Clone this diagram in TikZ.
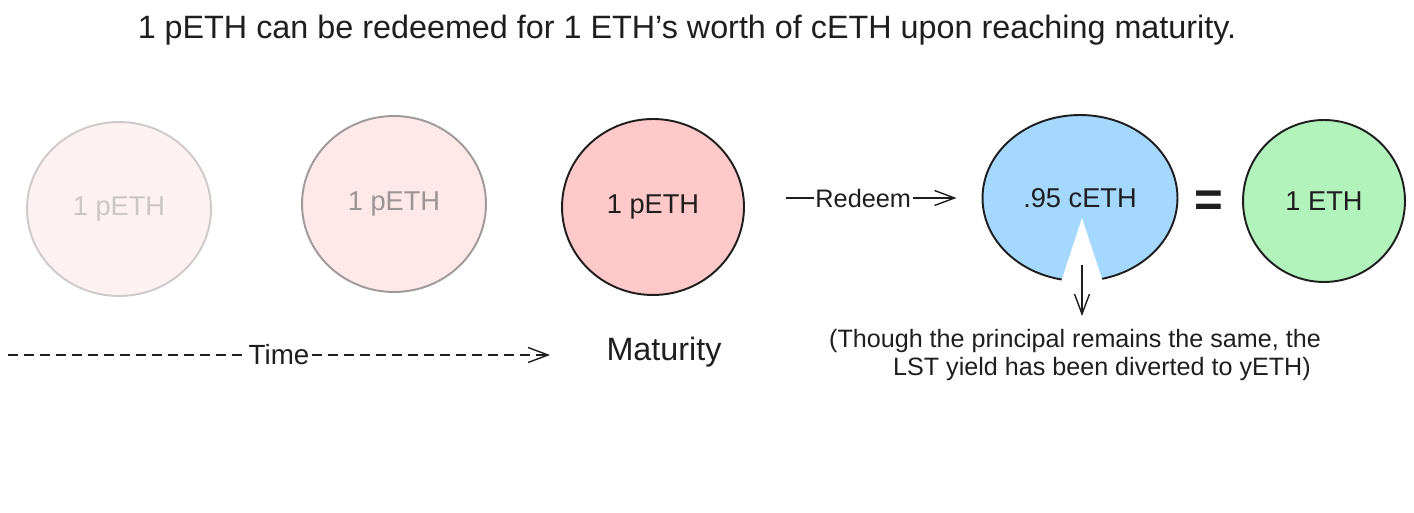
\documentclass[tikz,border=0pt]{standalone}
\usepackage{fontspec}
\setmainfont{Liberation Sans}
\usepackage{tikz}
\usetikzlibrary{shapes.geometric,arrows.meta,positioning}
\definecolor{inkBlack}{HTML}{1E1E1E}
\definecolor{fadeLine}{HTML}{CFCACA}
\definecolor{fadeFill}{HTML}{FDF1F1}
\definecolor{fadeText}{HTML}{CBC6C6}
\definecolor{halfLine}{HTML}{9F9A9A}
\definecolor{halfFill}{HTML}{FFE8E8}
\definecolor{halfText}{HTML}{9A9696}
\definecolor{pethRed}{HTML}{FFC9C9}
\definecolor{cethBlue}{HTML}{A5D8FF}
\definecolor{ethGreen}{HTML}{B2F2BB}

\begin{document}
\begin{tikzpicture}[x=0.02cm, y=-0.02cm,
        coin/.style={ellipse, draw=#1, line width=1.1pt, inner sep=0pt,
                     align=center, font=\fontsize{15.5}{18}\selectfont},
        arr/.style={-{Straight Barb[length=0.4cm,width=0.3cm]}, line width=0.8pt, inkBlack},
        tag/.style={fill=white, inner sep=1pt, text=inkBlack, font=\fontsize{#1}{#1}\selectfont},
      ]
      \useasboundingbox (0,0) rectangle (1414,513);
      \node[font=\fontsize{18.4}{22}\selectfont, text=inkBlack] (title) at (687,30)
        {1 pETH can be redeemed for 1 ETH's worth of cETH upon reaching maturity.};
      \node[coin=fadeLine, fill=fadeFill, text=fadeText,
            minimum width=3.68cm, minimum height=3.48cm] (p1) at (119,209) {1 pETH};
      \node[coin=halfLine, fill=halfFill, text=halfText,
            minimum width=3.68cm, minimum height=3.52cm] (p2) at (394,204) {1 pETH};
      \node[coin=inkBlack, fill=pethRed, text=inkBlack,
            minimum width=3.64cm, minimum height=3.52cm] (p3) at (653,207) {1 pETH};
      \node[coin=inkBlack, fill=cethBlue, text=inkBlack,
            minimum width=3.9cm, minimum height=3.32cm] (ceth) at (1080,198) {.95 cETH};
      \node[coin=inkBlack, fill=ethGreen, text=inkBlack,
            minimum width=3.24cm, minimum height=3.24cm] (eth) at (1324,201) {1 ETH};
      \node[font=\bfseries\fontsize{28}{28}\selectfont, text=inkBlack] (eq) at (1209,204) {=};
      \coordinate (cut) at (1082,218);
      \fill[white] (cut) -- (1060,285) -- (1104,285) -- cycle;
      \node[font=\fontsize{18.4}{22}\selectfont, text=inkBlack] (mat) at (664,352) {Maturity};
      \node[font=\fontsize{14.3}{16}\selectfont, text=inkBlack, align=left] (note) at (1075,355)
        {(Though the principal remains the same, the\\
         \hspace*{1.28cm}LST yield has been diverted to yETH)};
      \coordinate (tstart) at (8,355);
      \coordinate (tend) at (550,355);
      \draw[arr, dash pattern=on 0.2cm off 0.12cm] (tstart) -- node[tag=15.8] {Time} (tend);
      \draw[arr, shorten <=0.82cm, shorten >=0.5cm] (p3.east |- ceth.west) --
        node[tag=14.4] {Redeem} (ceth.west);
      \draw[arr, shorten <=0.94cm, shorten >=0.14cm] (cut) -- (cut |- note.north);
    \end{tikzpicture}
\end{document}
